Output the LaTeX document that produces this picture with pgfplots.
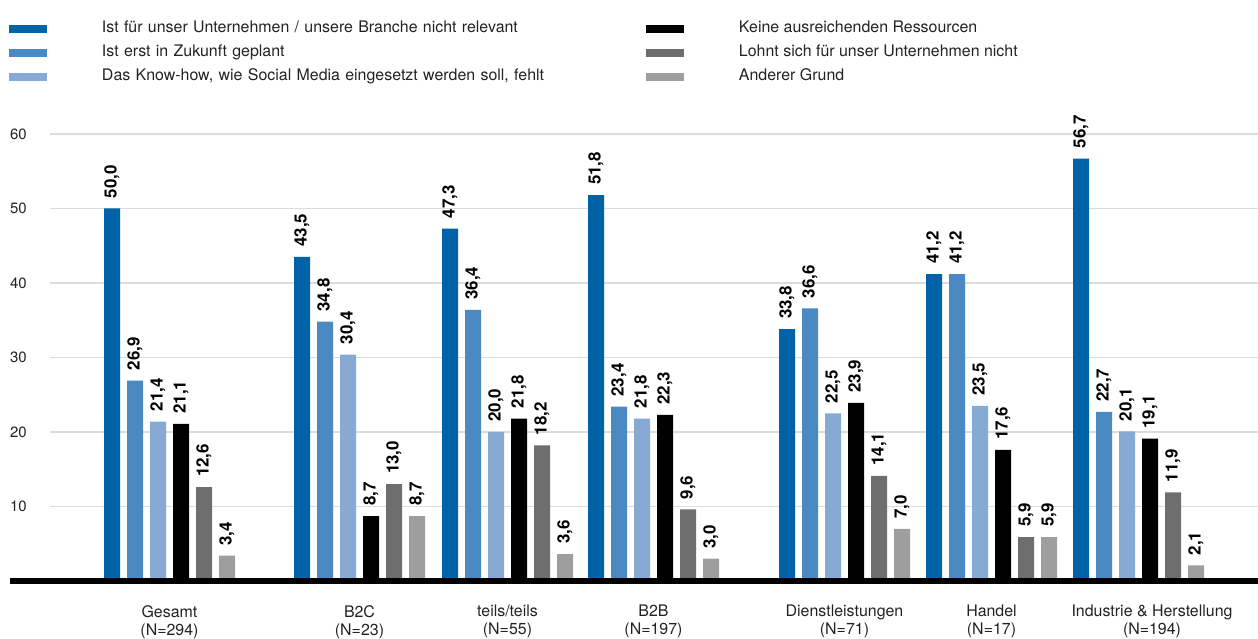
\documentclass[border=0pt]{standalone}
\usepackage{pgfplots}
\pgfplotsset{compat=1.18}
\usepackage{pgfplotstable}
\usepackage{fontspec}
\setmainfont{TeX Gyre Heros}

\definecolor{cA}{HTML}{0063A7}
\definecolor{cB}{HTML}{4A89C2}
\definecolor{cC}{HTML}{87AAD5}
\definecolor{cD}{HTML}{000000}
\definecolor{cE}{HTML}{6E6E6E}
\definecolor{cF}{HTML}{9E9E9E}
\definecolor{gridgray}{HTML}{DCDCDC}
\definecolor{txt}{HTML}{222222}

% group centre (x position) and the six reasons in percent
\pgfplotstableread{
pos    a     b     c     d     e     f
169.5  50.0  26.9  21.4  21.1  12.6  3.4
359.5  43.5  34.8  30.4  8.7   13.0  8.7
507.5  47.3  36.4  20.0  21.8  18.2  3.6
653.5  51.8  23.4  21.8  22.3  9.6   3.0
844.5  33.8  36.6  22.5  23.9  14.1  7.0
991.5  41.2  41.2  23.5  17.6  5.9   5.9
1138.5 56.7  22.7  20.1  19.1  11.9  2.1
}\datatable

\begin{document}
\begin{tikzpicture}
\path[use as bounding box] (-50bp,-58bp) rectangle (1208bp,581bp);
\begin{axis}[
  scale only axis,
  width=1208bp, height=447bp,
  xmin=50, xmax=1258,
  ymin=0, ymax=60,
  clip=false,
  axis line style={draw=none},
  major tick length=0pt,
  ytick={10,20,...,60},
  ymajorgrids,
  grid style={gridgray, line width=1.4bp},
  /pgf/number format/assume math mode=true,
  yticklabel style={font=\fontsize{15}{18}\selectfont, text=txt, inner sep=0pt, anchor=east, xshift=-23bp},
  xtick={169.5,359.5,507.5,653.5,844.5,991.5,1152},
  xticklabels={{Gesamt\\(N=294)},{B2C\\(N=23)},{teils/teils\\(N=55)},{B2B\\(N=197)},{Dienstleistungen\\(N=71)},{Handel\\(N=17)},{Industrie \& Herstellung\\(N=194)}},
  xticklabel style={align=center, font=\fontsize{16}{18}\selectfont, text=txt, inner sep=0pt, anchor=north, yshift=-24bp},
  ybar, bar width=16bp,
  nodes near coords={\pgfmathprintnumber[fixed,fixed zerofill,precision=1,use comma]{\pgfplotspointmeta}},
  every node near coord/.append style={rotate=90, anchor=west, inner xsep=10bp, inner ysep=0pt, text=black, font=\fontsize{17}{18}\selectfont\bfseries},
  legend columns=3,
  transpose legend,
  legend cell align=left,
  legend image code/.code={\fill[#1, draw=none] (0bp,-3.8bp) rectangle (38bp,3.8bp);},
  legend style={draw=none, fill=none, inner sep=0pt, outer sep=0pt,
    at={(-41bp,559bp)}, anchor=north west,
    font=\fontsize{16}{18}\selectfont, text=txt,
    column sep=0bp, row sep=10bp,
    nodes={inner sep=0pt, text height=11bp, text depth=3bp},
    /tikz/column 1/.style={column sep=55bp},
    /tikz/column 2/.style={column sep=0bp, nodes={text width=544bp}},
    /tikz/column 3/.style={column sep=55bp}},
]
\addplot[fill=cA, draw=none, bar shift=-57.5bp] table[x=pos, y=a] {\datatable};
\addlegendentry{Ist für unser Unternehmen / unsere Branche nicht relevant}
\addplot[fill=cB, draw=none, bar shift=-34.5bp] table[x=pos, y=b] {\datatable};
\addlegendentry{Ist erst in Zukunft geplant}
\addplot[fill=cC, draw=none, bar shift=-11.5bp] table[x=pos, y=c] {\datatable};
\addlegendentry{Das Know-how, wie Social Media eingesetzt werden soll, fehlt}
\addplot[fill=cD, draw=none, bar shift=11.5bp] table[x=pos, y=d] {\datatable};
\addlegendentry{Keine ausreichenden Ressourcen}
\addplot[fill=cE, draw=none, bar shift=34.5bp] table[x=pos, y=e] {\datatable};
\addlegendentry{Lohnt sich für unser Unternehmen nicht}
\addplot[fill=cF, draw=none, bar shift=57.5bp] table[x=pos, y=f] {\datatable};
\addlegendentry{Anderer Grund}
% thick base line
\draw[black, line width=5bp] (axis cs:10,0) -- (axis cs:1258,0);
\end{axis}
\end{tikzpicture}
\end{document}
